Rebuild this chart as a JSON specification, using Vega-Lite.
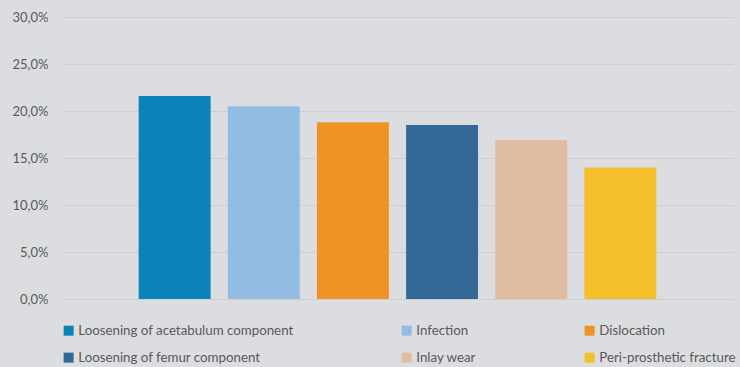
{
  "$schema": "https://vega.github.io/schema/vega-lite/v6.json",
  "autosize": {"type": "none"},
  "width": 671,
  "height": 282,
  "padding": {"left": 62, "top": 17, "right": 7, "bottom": 68},
  "background": "#dcdde0",
  "config": {
    "view": {"stroke": null},
    "font": "Lato"
  },
  "data": {
    "values": [
      {"cause": "Loosening of acetabulum component", "share": 0.216},
      {"cause": "Infection", "share": 0.205},
      {"cause": "Dislocation", "share": 0.188},
      {"cause": "Loosening of femur component", "share": 0.185},
      {"cause": "Inlay wear", "share": 0.169},
      {"cause": "Peri-prosthetic fracture", "share": 0.140}
    ]
  },
  "mark": {"type": "bar"},
  "encoding": {
    "x": {
      "field": "cause",
      "type": "nominal",
      "sort": null,
      "axis": null,
      "scale": {"paddingInner": 0.193, "paddingOuter": 0.86}
    },
    "y": {
      "field": "share",
      "type": "quantitative",
      "scale": {"domain": [0, 0.3], "nice": false},
      "axis": {
        "title": null,
        "values": [0, 0.05, 0.1, 0.15, 0.2, 0.25, 0.3],
        "labelExpr": "replace(format(datum.value, '.1%'), '.', ',')",
        "domain": false,
        "ticks": false,
        "labelPadding": 14,
        "labelFontSize": 13,
        "labelColor": "#595959",
        "gridColor": "#cdced1",
        "gridWidth": 1.2
      }
    },
    "color": {
      "field": "cause",
      "type": "nominal",
      "scale": {
        "domain": [
          "Loosening of acetabulum component",
          "Infection",
          "Dislocation",
          "Loosening of femur component",
          "Inlay wear",
          "Peri-prosthetic fracture"
        ],
        "range": ["#0a84b8", "#93bce3", "#ef9325", "#346896", "#e0bda0", "#f4bf28"]
      },
      "legend": {
        "title": null,
        "orient": "none",
        "direction": "horizontal",
        "legendX": 0,
        "legendY": 307,
        "columns": 3,
        "columnPadding": 106,
        "rowPadding": 13,
        "symbolType": "square",
        "symbolSize": 100,
        "symbolStrokeWidth": 0,
        "labelFontSize": 13.3,
        "labelColor": "#595959",
        "labelOffset": 3,
        "labelLimit": 400,
        "padding": 0
      }
    }
  }
}
